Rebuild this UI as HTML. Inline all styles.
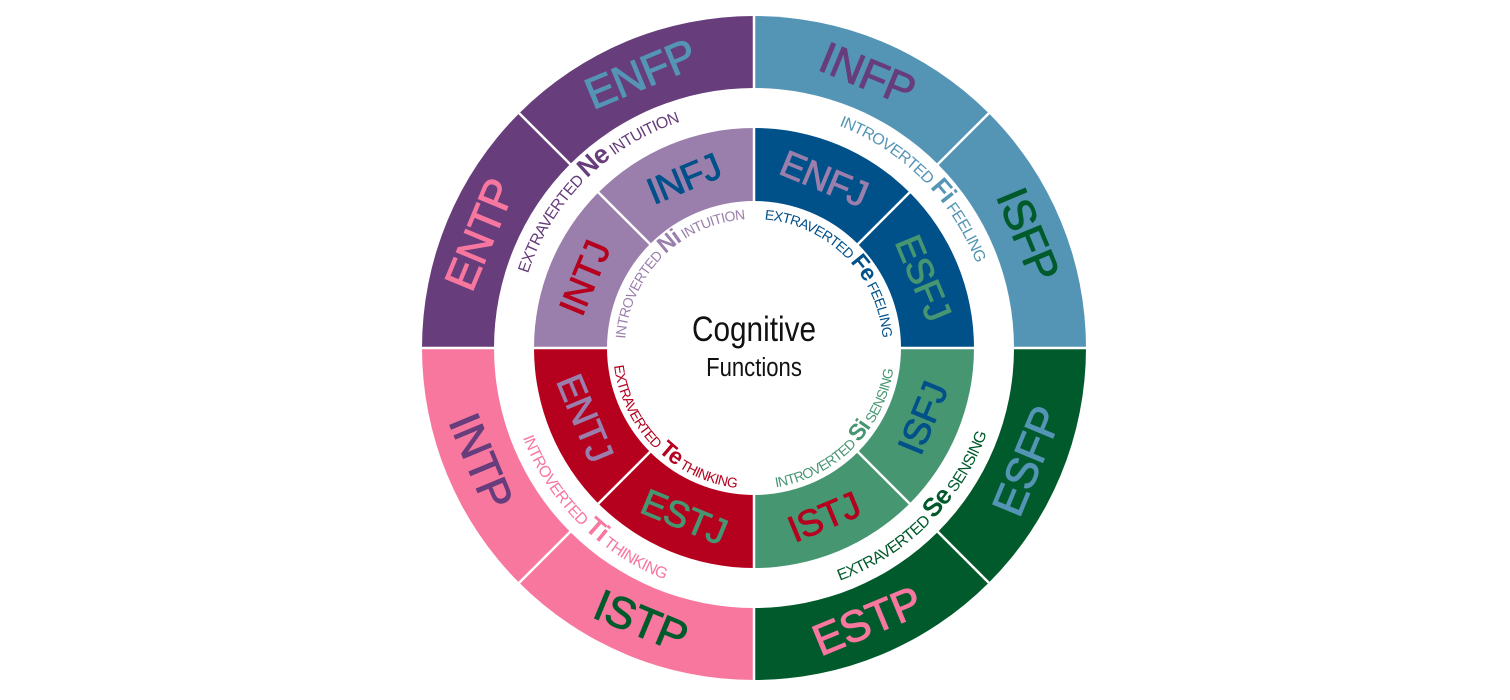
<!DOCTYPE html>
<html><head><meta charset="utf-8"><style>
html,body{margin:0;padding:0;background:#fff;}
svg{display:block;font-family:"Liberation Sans",sans-serif;}
.o{font-size:44px;text-anchor:middle;dominant-baseline:central;stroke-width:1px;letter-spacing:-0.5px;}
.i{font-size:37px;text-anchor:middle;dominant-baseline:central;stroke-width:0.9px;letter-spacing:-0.5px;}
.a{letter-spacing:-0.7px;}
</style></head><body>
<svg width="1510" height="700" viewBox="0 0 1510 700">
<path d="M754,348 L1086,348 A332,332 0 0 1 754,680 Z" fill="#005a2b"/>
<path d="M754,348 L754,680 A332,332 0 0 1 422,348 Z" fill="#f7779f"/>
<path d="M754,348 L422,348 A332,332 0 0 1 754,16 Z" fill="#673d7c"/>
<path d="M754,348 L754,16 A332,332 0 0 1 1086,348 Z" fill="#5495b5"/>
<circle cx="754" cy="348" r="260" fill="#fff"/>
<path d="M754,348 L974,348 A220,220 0 0 1 754,568 Z" fill="#479672"/>
<path d="M754,348 L754,568 A220,220 0 0 1 534,348 Z" fill="#b5001e"/>
<path d="M754,348 L534,348 A220,220 0 0 1 754,128 Z" fill="#9a7fac"/>
<path d="M754,348 L754,128 A220,220 0 0 1 974,348 Z" fill="#00508a"/>
<circle cx="754" cy="348" r="147" fill="#fff"/>
<g stroke="#fff" stroke-width="2.5">
<line x1="754" y1="16" x2="754" y2="201"/><line x1="754" y1="495" x2="754" y2="680"/>
<line x1="422" y1="348" x2="607" y2="348"/><line x1="901" y1="348" x2="1086" y2="348"/>
<line x1="519.2" y1="113.2" x2="650.1" y2="244.1"/><line x1="988.8" y1="113.2" x2="857.9" y2="244.1"/>
<line x1="519.2" y1="582.8" x2="650.1" y2="451.9"/><line x1="988.8" y1="582.8" x2="857.9" y2="451.9"/>
</g>
<text class="o" x="640.7" y="74.5" transform="rotate(-22.5 640.7 74.5)" fill="#5495b5" stroke="#5495b5">ENFP</text>
<text class="o" x="867.3" y="74.5" transform="rotate(22.5 867.3 74.5)" fill="#673d7c" stroke="#673d7c">INFP</text>
<text class="o" x="1027.5" y="234.7" transform="rotate(67.5 1027.5 234.7)" fill="#005a2b" stroke="#005a2b">ISFP</text>
<text class="o" x="1027.5" y="461.3" transform="rotate(-67.5 1027.5 461.3)" fill="#5495b5" stroke="#5495b5">ESFP</text>
<text class="o" x="867.3" y="621.5" transform="rotate(-22.5 867.3 621.5)" fill="#f7779f" stroke="#f7779f">ESTP</text>
<text class="o" x="640.7" y="621.5" transform="rotate(22.5 640.7 621.5)" fill="#005a2b" stroke="#005a2b">ISTP</text>
<text class="o" x="480.5" y="461.3" transform="rotate(67.5 480.5 461.3)" fill="#673d7c" stroke="#673d7c">INTP</text>
<text class="o" x="480.5" y="234.7" transform="rotate(-67.5 480.5 234.7)" fill="#f7779f" stroke="#f7779f">ENTP</text>
<text class="i" x="684" y="178.9" transform="rotate(-22.5 684 178.9)" fill="#00508a" stroke="#00508a">INFJ</text>
<text class="i" x="824" y="178.9" transform="rotate(22.5 824 178.9)" fill="#9a7fac" stroke="#9a7fac">ENFJ</text>
<text class="i" x="923.1" y="278" transform="rotate(67.5 923.1 278)" fill="#479672" stroke="#479672">ESFJ</text>
<text class="i" x="923.1" y="418" transform="rotate(-67.5 923.1 418)" fill="#00508a" stroke="#00508a">ISFJ</text>
<text class="i" x="824" y="517.1" transform="rotate(-22.5 824 517.1)" fill="#b5001e" stroke="#b5001e">ISTJ</text>
<text class="i" x="684" y="517.1" transform="rotate(22.5 684 517.1)" fill="#479672" stroke="#479672">ESTJ</text>
<text class="i" x="584.9" y="418" transform="rotate(67.5 584.9 418)" fill="#9a7fac" stroke="#9a7fac">ENTJ</text>
<text class="i" x="584.9" y="278" transform="rotate(-67.5 584.9 278)" fill="#b5001e" stroke="#b5001e">INTJ</text>
<defs>
<path id="pNe" d="M516,348 A238,238 0 0 1 754,110"/>
<path id="pFi" d="M754,110 A238,238 0 0 1 992,348"/>
<path id="pSe" d="M754,596 A248,248 0 0 0 1002,348"/>
<path id="pTi" d="M506,348 A248,248 0 0 0 754,596"/>
<path id="pNi" d="M625,348 A129,129 0 0 1 754,219"/>
<path id="pFe" d="M754,219 A129,129 0 0 1 883,348"/>
<path id="pSi" d="M754,489 A141,141 0 0 0 895,348"/>
<path id="pTe" d="M613,348 A141,141 0 0 0 754,489"/>
</defs>
<text class="a" font-size="16" fill="#673d7c"><textPath href="#pNe" startOffset="50%" text-anchor="middle">EXTRAVERTED <tspan font-size="26" font-weight="bold">Ne</tspan> INTUITION</textPath></text>
<text class="a" font-size="16" fill="#5495b5"><textPath href="#pFi" startOffset="50%" text-anchor="middle">INTROVERTED <tspan font-size="26" font-weight="bold">Fi</tspan> FEELING</textPath></text>
<text class="a" font-size="16" fill="#005a2b"><textPath href="#pSe" startOffset="50%" text-anchor="middle">EXTRAVERTED <tspan font-size="26" font-weight="bold">Se</tspan> SENSING</textPath></text>
<text class="a" font-size="16" fill="#f7779f"><textPath href="#pTi" startOffset="50%" text-anchor="middle">INTROVERTED <tspan font-size="26" font-weight="bold">Ti</tspan> THINKING</textPath></text>
<text class="a" font-size="14" fill="#9a7fac"><textPath href="#pNi" startOffset="50%" text-anchor="middle">INTROVERTED <tspan font-size="23" font-weight="bold">Ni</tspan> INTUITION</textPath></text>
<text class="a" font-size="14" fill="#00508a"><textPath href="#pFe" startOffset="50%" text-anchor="middle">EXTRAVERTED <tspan font-size="23" font-weight="bold">Fe</tspan> FEELING</textPath></text>
<text class="a" font-size="14" fill="#479672"><textPath href="#pSi" startOffset="50%" text-anchor="middle">INTROVERTED <tspan font-size="23" font-weight="bold">Si</tspan> SENSING</textPath></text>
<text class="a" font-size="14" fill="#b5001e"><textPath href="#pTe" startOffset="50%" text-anchor="middle">EXTRAVERTED <tspan font-size="23" font-weight="bold">Te</tspan> THINKING</textPath></text>
<g transform="translate(754 0) scale(0.85 1)">
<text x="0" y="341" font-size="35" text-anchor="middle" fill="#111">Cognitive</text>
<text x="0" y="376" font-size="26" text-anchor="middle" fill="#111">Functions</text>
</g>
</svg>
</body></html>
